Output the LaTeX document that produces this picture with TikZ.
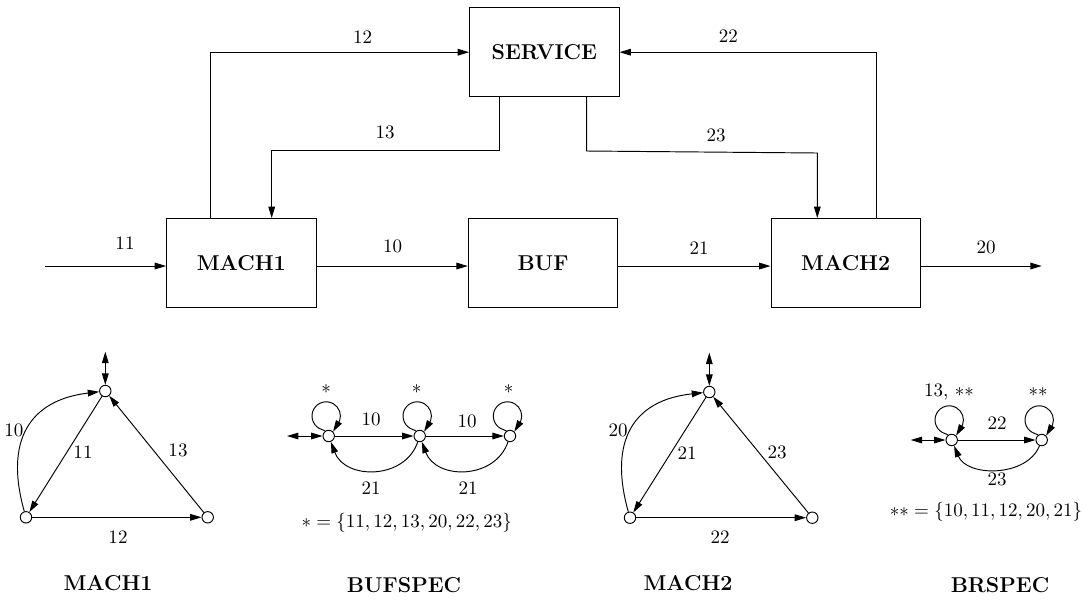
\documentclass[tikz,border=0pt]{standalone}
\usetikzlibrary{arrows.meta,calc}
\newcommand{\myloop}[1]{\draw[->] (#1.125) -- ($(#1)+(-9.6,7.7)$) arc[start angle=240,end angle=-20,radius=7.47pt] -- (#1.45);}
\begin{document}
\begin{tikzpicture}[x=0.526pt,y=0.526pt,
  line width=0.5pt,
  >={Triangle[length=6pt,width=3.5pt]},
  box/.style={draw,minimum width=78.6pt,minimum height=46.8pt,inner sep=0pt,font=\fontsize{11.3}{13}\selectfont\bfseries},
  st/.style={circle,draw,fill=white,minimum size=6pt,inner sep=0pt},
  lbl/.style={font=\normalsize,inner sep=0pt},
  ttl/.style={font=\fontsize{11.3}{13}\selectfont\bfseries,inner sep=0pt}]
\useasboundingbox (0,0) rectangle (1084,-604);

% ---------- block diagram ----------
\node[box] (serv) at (544.3,-52.2) {SERVICE};
\node[box] (m1) at (241.3,-263) {MACH1};
\node[box] (buf) at (543,-263) {BUF};
\node[box] (m2) at (845.7,-263) {MACH2};

\coordinate (in) at (45,-266);
\coordinate (out) at (1041.7,-266);
\draw[->] (in) -- (in -| m1.west);
\draw[->] ([yshift=-1.6pt]m1.east) -- ([yshift=-1.6pt]buf.west);
\draw[->] ([yshift=-1.6pt]buf.east) -- ([yshift=-1.6pt]m2.west);
\draw[->] (out -| m2.east) -- (out);

\draw[->] (210,0 |- m1.north) |- (serv.west);
\draw[->] (876,0 |- m2.north) |- (serv.east);
\coordinate (b13a) at (499.3,-150);
\coordinate (b13b) at (271.7,-150);
\draw[->] (499.3,0 |- serv.south) -- (b13a) -- (b13b) -- (271.7,0 |- m1.north);
\coordinate (b23a) at (586.7,-151);
\coordinate (b23b) at (817.3,-153);
\draw[->] (586.7,0 |- serv.south) -- (b23a) -- (b23b) -- (817.3,0 |- m2.north);

\node[lbl] (l11) at (125,-243) {11};
\node[lbl] (l10) at (392.7,-246) {10};
\node[lbl] (l21) at (699,-247.7) {21};
\node[lbl] (l20) at (986,-247.7) {20};
\node[lbl] (l12) at (362.7,-36.7) {12};
\node[lbl] (l13) at (385,-132.3) {13};
\node[lbl] (l23) at (716,-135.7) {23};
\node[lbl] (l22) at (728.3,-35.7) {22};

% ---------- MACH1 automaton ----------
\node[st] (a1) at (105.3,-391) {};
\node[st] (a2) at (26,-517.3) {};
\node[st] (a3) at (207.7,-517.3) {};
\coordinate (a0) at (105.3,-351.7);
\draw[<->] (a0) -- (a1);
\draw[->] (a1) -- (a2);
\draw[->] (a3) -- (a1);
\draw[->] (a2) -- (a3);
\draw[->] (a2) .. controls (4,-440) and (30,-400) .. (a1);
\node[lbl] (la10) at (14,-430) {10};
\node[lbl] (la11) at (83,-452) {11};
\node[lbl] (la13) at (178,-450) {13};
\node[lbl] (la12) at (118,-537) {12};
\node[ttl] (ta) at (108,-583) {MACH1};

% ---------- MACH2 automaton ----------
\node[st] (b1) at (709.3,-392) {};
\node[st] (b2) at (630,-517.7) {};
\node[st] (b3) at (812.3,-517.7) {};
\coordinate (b0) at (709.3,-352.7);
\draw[<->] (b0) -- (b1);
\draw[->] (b1) -- (b2);
\draw[->] (b3) -- (b1);
\draw[->] (b2) -- (b3);
\draw[->] (b2) .. controls (608,-440) and (634,-400) .. (b1);
\node[lbl] (lb20) at (618,-430) {20};
\node[lbl] (lb21) at (687,-453) {21};
\node[lbl] (lb23) at (777,-452) {23};
\node[lbl] (lb22) at (720,-537) {22};
\node[ttl] (tb) at (688,-583) {MACH2};

% ---------- BUFSPEC ----------
\node[st] (c1) at (328.7,-436) {};
\node[st] (c2) at (419.7,-436) {};
\node[st] (c3) at (510,-436) {};
\coordinate (c0) at (287,-436);
\draw[<->] (c0) -- (c1);
\draw[->] (c1) -- (c2);
\draw[->] (c2) -- (c3);
\draw[->] (c2) .. controls (405,-480) and (345,-480) .. (c1);
\draw[->] (c3) .. controls (495,-480) and (436,-480) .. (c2);
\myloop{c1}
\myloop{c2}
\myloop{c3}
\node[lbl] (sc1) at (326,-389) {$*$};
\node[lbl] (sc2) at (416.7,-389) {$*$};
\node[lbl] (sc3) at (508.7,-389) {$*$};
\node[lbl] (lc10a) at (371,-419) {10};
\node[lbl] (lc10b) at (467,-421) {10};
\node[lbl] (lc21a) at (371,-488) {21};
\node[lbl] (lc21b) at (468,-488) {21};
\node[lbl] (setc) at (406.7,-523) {$*=\{11,12,13,20,22,23\}$};
\node[ttl] (tc) at (404,-585) {BUFSPEC};

% ---------- BRSPEC ----------
\node[st] (d1) at (951.7,-440) {};
\node[st] (d2) at (1041.7,-440) {};
\coordinate (d0) at (910.7,-440);
\draw[<->] (d0) -- (d1);
\draw[->] (d1) -- (d2);
\draw[->] (d2) .. controls (1027,-477.3) and (967,-477.3) .. (d1);
\myloop{d1}
\myloop{d2}
\node[lbl] (sd1) at (949,-392) {13, $**$};
\node[lbl] (sd2) at (1038,-392) {$**$};
\node[lbl] (ld22) at (997,-423) {22};
\node[lbl] (ld23) at (997,-479) {23};
\node[lbl] (setd) at (986,-512) {$**=\{10,11,12,20,21\}$};
\node[ttl] (td) at (1000,-585) {BRSPEC};
\end{tikzpicture}
\end{document}
